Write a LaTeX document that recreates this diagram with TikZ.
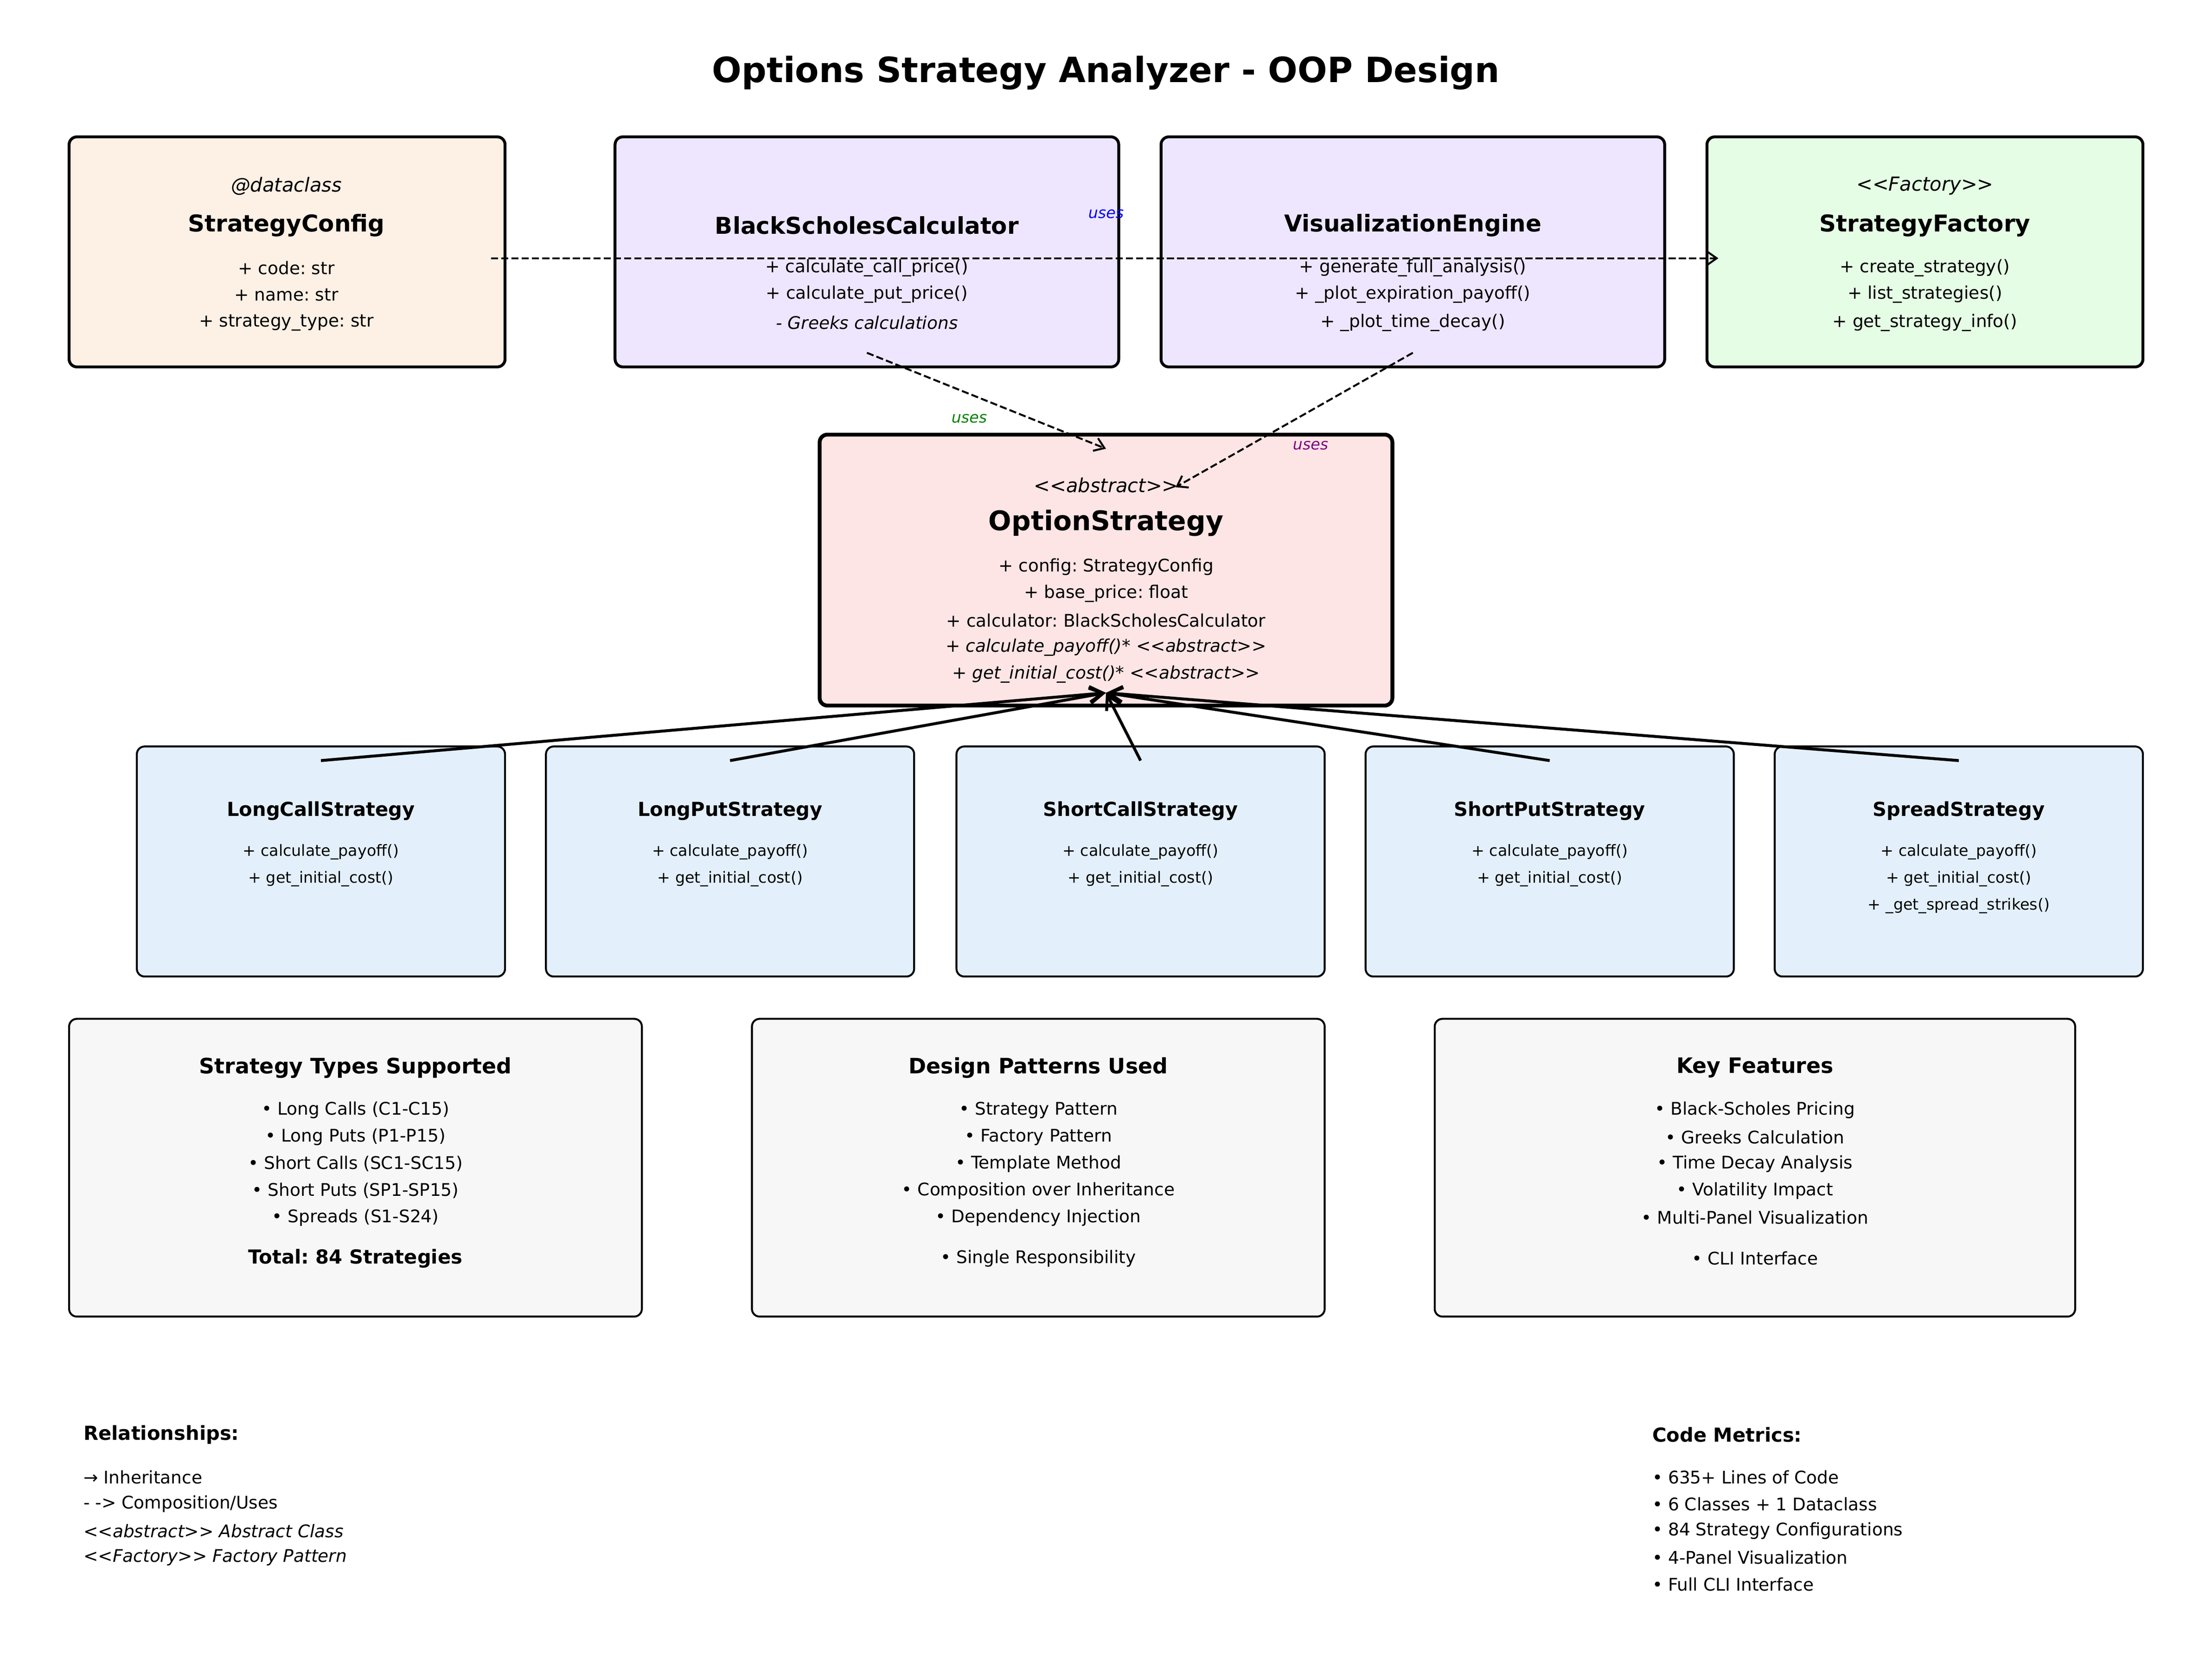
\documentclass[tikz,border=0pt]{standalone}
\usepackage{fontspec}
\setmainfont{DejaVu Sans}
\usetikzlibrary{arrows.meta,fit}

\definecolor{cfgfill}{HTML}{FDF0E5}
\definecolor{engfill}{HTML}{EEE6FE}
\definecolor{facfill}{HTML}{E5FCE5}
\definecolor{absfill}{HTML}{FDE5E5}
\definecolor{subfill}{HTML}{E3F0FC}
\definecolor{infofill}{HTML}{F7F7F7}
\definecolor{usesgreen}{HTML}{008000}
\definecolor{usespurple}{HTML}{800080}

% stereotype brackets, kept apart so that << and >> stay two signs
\newcommand\stl{<\kern0pt<}
\newcommand\stg{>\kern0pt>}

\tikzset{
  clsbox/.style={draw,rounded corners=4pt,inner sep=0pt,outer sep=0pt,line width=1.5pt},
  subbox/.style={clsbox,line width=1pt,fill=subfill},
  infobox/.style={clsbox,line width=1pt,fill=infofill},
  txt/.style={inner sep=0pt,yshift=-1.3pt},
  stereo/.style={txt,font=\fontsize{10}{12}\selectfont\itshape},
  clsname/.style={txt,font=\fontsize{12}{14}\selectfont\bfseries},
  meth/.style={txt,font=\fontsize{9}{11}\selectfont},
  subname/.style={txt,font=\fontsize{10}{12}\selectfont\bfseries},
  submeth/.style={txt,font=\fontsize{8}{10}\selectfont},
  infohead/.style={txt,font=\fontsize{11}{13}\selectfont\bfseries},
  leghead/.style={txt,anchor=west,font=\fontsize{10}{12}\selectfont\bfseries},
  legline/.style={txt,anchor=west,font=\fontsize{9}{11}\selectfont},
  useslbl/.style={txt,font=\fontsize{8}{10}\selectfont\itshape},
  uses/.style={line width=1pt,dash pattern=on 3.7pt off 1.6pt,-{Straight Barb[length=5pt,width=7pt]}},
  inherit/.style={line width=1.5pt,-{Straight Barb[length=7pt,width=8pt]}}
}

\begin{document}
\frenchspacing
\begin{tikzpicture}[x=0.7301pt,y=-0.7301pt]
    \useasboundingbox (0,0) rectangle (1568,1173.5);

    \node[txt,font=\fontsize{18}{22}\selectfont\bfseries] (title) at (784,50) {Options Strategy Analyzer - OOP Design};

    %%%%% top row %%%%%
    \node[clsbox,fill=cfgfill,fit={(49,97) (358,260)}] (cfg) {};
    \node[clsbox,fill=engfill,fit={(436,97) (793,260)}] (bsc) {};
    \node[clsbox,fill=engfill,fit={(823,97) (1180,260)}] (vis) {};
    \node[clsbox,fill=facfill,fit={(1210,97) (1519,260)}] (fac) {};

    \node[stereo] (cfgst) at (203,130) {@dataclass};
    \node[clsname] (cfgname) at (203,158) {StrategyConfig};
    \node[meth] (cfg1) at (203,188) {+ code: str};
    \node[meth] (cfg2) at (203,207) {+ name: str};
    \node[meth] (cfg3) at (203,227) {+ strategy\_type: str};

    \node[clsname] (bscname) at (614.5,158) {BlackScholesCalculator};
    \node[meth] (bsc1) at (614.5,188) {+ calculate\_call\_price()};
    \node[meth] (bsc2) at (614.5,207) {+ calculate\_put\_price()};
    \node[meth,font=\fontsize{9}{11}\selectfont\itshape] (bsc3) at (614.5,227) {- Greeks calculations};

    \node[clsname] (visname) at (1001.5,158) {VisualizationEngine};
    \node[meth] (vis1) at (1001.5,188) {+ generate\_full\_analysis()};
    \node[meth] (vis2) at (1001.5,207) {+ \_plot\_expiration\_payoff()};
    \node[meth] (vis3) at (1001.5,227) {+ \_plot\_time\_decay()};

    \node[stereo] (facst) at (1364.5,130) {\stl Factory\stg};
    \node[clsname] (facname) at (1364.5,158) {StrategyFactory};
    \node[meth] (fac1) at (1364.5,188) {+ create\_strategy()};
    \node[meth] (fac2) at (1364.5,207) {+ list\_strategies()};
    \node[meth] (fac3) at (1364.5,227) {+ get\_strategy\_info()};

    %%%%% abstract base %%%%%
    \node[clsbox,line width=2pt,fill=absfill,fit={(581,308) (987,500)}] (opt) {};
    \node[stereo] (optst) at (784,342) {\stl abstract\stg};
    \node[txt,font=\fontsize{14}{17}\selectfont\bfseries] (optname) at (784,369) {OptionStrategy};
    \node[meth] (opt1) at (784,400) {+ config: StrategyConfig};
    \node[meth] (opt2) at (784,419) {+ base\_price: float};
    \node[meth] (opt3) at (784,438) {+ calculator: BlackScholesCalculator};
    \node[meth,font=\fontsize{9}{11}\selectfont\itshape] (opt4) at (784,457) {+ calculate\_payoff()* \stl abstract\stg};
    \node[meth,font=\fontsize{9}{11}\selectfont\itshape] (opt5) at (784,476) {+ get\_initial\_cost()* \stl abstract\stg};

    %%%%% concrete strategies %%%%%
    \node[subbox,fit={(97,529) (358,692)}] (lcall) {};
    \node[subbox,fit={(387,529) (648,692)}] (lput) {};
    \node[subbox,fit={(678,529) (939,692)}] (scall) {};
    \node[subbox,fit={(968,529) (1229,692)}] (sput) {};
    \node[subbox,fit={(1258,529) (1519,692)}] (spread) {};

    \node[subname] (lcallname) at (227.5,573) {LongCallStrategy};
    \node[submeth] (lcall1) at (227.5,602) {+ calculate\_payoff()};
    \node[submeth] (lcall2) at (227.5,621) {+ get\_initial\_cost()};

    \node[subname] (lputname) at (517.5,573) {LongPutStrategy};
    \node[submeth] (lput1) at (517.5,602) {+ calculate\_payoff()};
    \node[submeth] (lput2) at (517.5,621) {+ get\_initial\_cost()};

    \node[subname] (scallname) at (808.5,573) {ShortCallStrategy};
    \node[submeth] (scall1) at (808.5,602) {+ calculate\_payoff()};
    \node[submeth] (scall2) at (808.5,621) {+ get\_initial\_cost()};

    \node[subname] (sputname) at (1098.5,573) {ShortPutStrategy};
    \node[submeth] (sput1) at (1098.5,602) {+ calculate\_payoff()};
    \node[submeth] (sput2) at (1098.5,621) {+ get\_initial\_cost()};

    \node[subname] (spreadname) at (1388.5,573) {SpreadStrategy};
    \node[submeth] (spread1) at (1388.5,602) {+ calculate\_payoff()};
    \node[submeth] (spread2) at (1388.5,621) {+ get\_initial\_cost()};
    \node[submeth] (spread3) at (1388.5,640) {+ \_get\_spread\_strikes()};

    %%%%% info panels %%%%%
    \node[infobox,fit={(49,722) (455,933)}] (types) {};
    \node[infobox,fit={(533,722) (939,933)}] (patterns) {};
    \node[infobox,fit={(1017,722) (1471,933)}] (features) {};

    \node[infohead] (typeshead) at (252,755) {Strategy Types Supported};
    \node[meth] (types1) at (252,785) {• Long Calls (C1-C15)};
    \node[meth] (types2) at (252,804) {• Long Puts (P1-P15)};
    \node[meth] (types3) at (252,823) {• Short Calls (SC1-SC15)};
    \node[meth] (types4) at (252,842) {• Short Puts (SP1-SP15)};
    \node[meth] (types5) at (252,861) {• Spreads (S1-S24)};
    \node[subname] (typestotal) at (252,890) {Total: 84 Strategies};

    \node[infohead] (patternshead) at (736,755) {Design Patterns Used};
    \node[meth] (patterns1) at (736,785) {• Strategy Pattern};
    \node[meth] (patterns2) at (736,804) {• Factory Pattern};
    \node[meth] (patterns3) at (736,823) {• Template Method};
    \node[meth] (patterns4) at (736,842) {• Composition over Inheritance};
    \node[meth] (patterns5) at (736,861) {• Dependency Injection};
    \node[meth] (patterns6) at (736,890) {• Single Responsibility};

    \node[infohead] (featureshead) at (1244,755) {Key Features};
    \node[meth] (features1) at (1244,785) {• Black-Scholes Pricing};
    \node[meth] (features2) at (1244,804) {• Greeks Calculation};
    \node[meth] (features3) at (1244,823) {• Time Decay Analysis};
    \node[meth] (features4) at (1244,842) {• Volatility Impact};
    \node[meth] (features5) at (1244,861) {• Multi-Panel Visualization};
    \node[meth] (features6) at (1244,890) {• CLI Interface};

    %%%%% legend and metrics %%%%%
    \node[leghead] (relhead) at (59,1015) {Relationships:};
    \node[legline] (rel1) at (59,1045) {→ Inheritance};
    \node[legline] (rel2) at (59,1064) {- -> Composition/Uses};
    \node[legline,font=\fontsize{9}{11}\selectfont\itshape] (rel3) at (59,1083) {\stl abstract\stg{} Abstract Class};
    \node[legline,font=\fontsize{9}{11}\selectfont\itshape] (rel4) at (59,1102) {\stl Factory\stg{} Factory Pattern};

    \node[leghead] (methead) at (1171,1015) {Code Metrics:};
    \node[legline] (met1) at (1171,1045) {• 635+ Lines of Code};
    \node[legline] (met2) at (1171,1064) {• 6 Classes + 1 Dataclass};
    \node[legline] (met3) at (1171,1083) {• 84 Strategy Configurations};
    \node[legline] (met4) at (1171,1102) {• 4-Panel Visualization};
    \node[legline] (met5) at (1171,1121) {• Full CLI Interface};

    %%%%% uses (dashed) %%%%%
    \draw[uses] ([xshift=-7.3pt,yshift=-3.3pt]cfg.east) to ([xshift=5.9pt,yshift=-3.3pt]fac.west);
    \node[useslbl,text=blue] (uses1) at (784,150) {uses};

    \draw[uses] ([yshift=7.3pt]bsc.south) to ([yshift=-7.3pt]opt.north);
    \node[useslbl,text=usesgreen] (uses2) at (687,295) {uses};

    \draw[uses] ([yshift=7.3pt]vis.south) to ([xshift=36pt,yshift=-27.2pt]opt.north);
    \node[useslbl,text=usespurple] (uses3) at (929,314) {uses};

    %%%%% inheritance %%%%%
    \draw[inherit] ([yshift=-7.3pt]lcall.north) to ([yshift=6.6pt]opt.south);
    \draw[inherit] ([yshift=-7.3pt]lput.north) to ([yshift=6.6pt]opt.south);
    \draw[inherit] ([yshift=-7.3pt]scall.north) to ([yshift=6.6pt]opt.south);
    \draw[inherit] ([yshift=-7.3pt]sput.north) to ([yshift=6.6pt]opt.south);
    \draw[inherit] ([yshift=-7.3pt]spread.north) to ([yshift=6.6pt]opt.south);
  \end{tikzpicture}
\end{document}
